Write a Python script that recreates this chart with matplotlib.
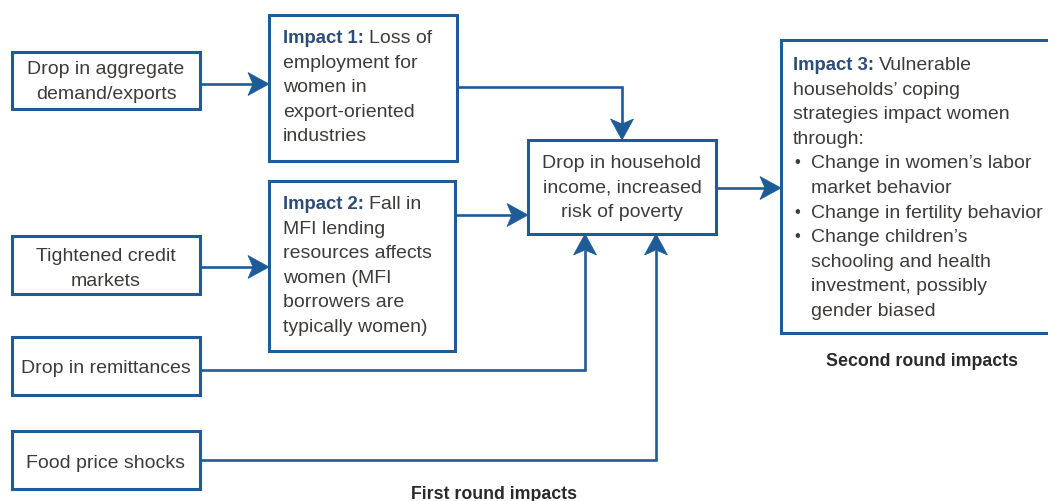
import matplotlib
matplotlib.use("Agg")
import matplotlib.pyplot as plt
from matplotlib.patches import Rectangle, Polygon

# ---------------- content ----------------
source_labels = [
    ["Drop in aggregate", "demand/exports"],
    ["Tightened credit", "markets"],
    ["Drop in remittances"],
    ["Food price shocks"],
]
impact1_head = "Impact 1:"
impact1_lines = ["Loss of", "employment for", "women in", "export-oriented", "industries"]
impact2_head = "Impact 2:"
impact2_lines = ["Fall in", "MFI lending", "resources affects", "women (MFI",
                 "borrowers are", "typically women)"]
center_lines = ["Drop in household", "income, increased", "risk of poverty"]
impact3_head = "Impact 3:"
impact3_lines = ["Vulnerable", "households\u2019 coping", "strategies impact women", "through:"]
impact3_bullets = [
    ["Change in women\u2019s labor", "market behavior"],
    ["Change in fertility behavior"],
    ["Change children\u2019s", "schooling and health", "investment, possibly", "gender biased"],
]
caption_first = "First round impacts"
caption_second = "Second round impacts"

# ---------------- style ----------------
W, H = 1048, 502
BLUE = "#1d5c98"
TEXT = "#3f3b38"
HEAD = "#2e4c7a"
FS = 14
LH = 24.6
REG = ["Liberation Sans", "DejaVu Sans"]
BOLD = ["Liberation Sans", "DejaVu Sans"]

fig = plt.figure(figsize=(W / 100, H / 100), dpi=100)
ax = fig.add_axes([0, 0, 1, 1])
ax.set_xlim(0, W)
ax.set_ylim(H, 0)
ax.axis("off")
renderer = fig.canvas.get_renderer()


def box(x0, y0, x1, y1):
    ax.add_patch(Rectangle((x0, y0), x1 - x0, y1 - y0, facecolor="white",
                           edgecolor=BLUE, linewidth=2.2, zorder=3))


def arrow(points, direction):
    # points: polyline; last point is arrow tip
    L, hw, notch = 21, 11.5, 5
    xs = [p[0] for p in points]
    ys = [p[1] for p in points]
    tx, ty = points[-1]
    dx, dy = direction
    xs[-1] = tx - dx * (L - notch)
    ys[-1] = ty - dy * (L - notch)
    ax.plot(xs, ys, color=BLUE, lw=1.9, solid_capstyle="butt",
            solid_joinstyle="miter", zorder=2)
    px, py = -dy, dx
    bx, by = tx - dx * L, ty - dy * L
    poly = [(tx, ty), (bx + px * hw, by + py * hw),
            (tx - dx * (L - notch), ty - dy * (L - notch)),
            (bx - px * hw, by - py * hw)]
    ax.add_patch(Polygon(poly, closed=True, facecolor=BLUE, edgecolor=BLUE,
                         lw=0.5, zorder=4))


def centered(lines, cx, base0):
    for i, s in enumerate(lines):
        ax.text(cx, base0 + i * LH, s, ha="center", va="baseline", fontsize=FS,
                family=REG, color=TEXT, zorder=5)


def headed(head, lines, x, base0):
    t = ax.text(x, base0, head, ha="left", va="baseline", fontsize=13.3,
                family=BOLD, weight="bold", color=HEAD, zorder=5)
    bb = t.get_window_extent(renderer)
    xe = ax.transData.inverted().transform((bb.x1, bb.y0))[0]
    ax.text(xe + 5, base0, lines[0], ha="left", va="baseline", fontsize=FS,
            family=REG, color=TEXT, zorder=5)
    for i, s in enumerate(lines[1:], start=1):
        ax.text(x, base0 + i * LH, s, ha="left", va="baseline", fontsize=FS,
                family=REG, color=TEXT, zorder=5)
    return base0 + len(lines) * LH


# ---------------- source boxes ----------------
src_x0, src_x1 = 12, 200
src_boxes = [(53, 110), (237, 295), (338, 396), (432, 490)]
src_base = [74, 261, 373, 468]
for (y0, y1), lab, b in zip(src_boxes, source_labels, src_base):
    box(src_x0, y0, src_x1, y1)
    centered(lab, (src_x0 + src_x1) / 2, b)

# ---------------- impact boxes ----------------
i1 = (269, 16, 457, 162)
i2 = (269, 182, 455, 352)
cb = (528, 141, 716, 235)
i3 = (781, 41, 1060, 334)
for b in (i1, i2, cb, i3):
    box(*b)

headed(impact1_head, impact1_lines, 283, 43)
headed(impact2_head, impact2_lines, 283, 209)
centered(center_lines, (cb[0] + cb[2]) / 2, 168)
nb = headed(impact3_head, impact3_lines, 793, 70)
for bl in impact3_bullets:
    ax.text(794, nb - 1, "\u2022", ha="left", va="baseline", fontsize=12,
            family=REG, color=TEXT, zorder=5)
    for s in bl:
        ax.text(811, nb, s, ha="left", va="baseline", fontsize=FS,
                family=REG, color=TEXT, zorder=5)
        nb += LH

# ---------------- connectors ----------------
arrow([(src_x1, 85), (i1[0], 85)], (1, 0))
arrow([(src_x1, 268), (i2[0], 268)], (1, 0))
arrow([(i1[2], 88), (622, 88), (622, cb[1])], (0, 1))
arrow([(i2[2], 216), (cb[0], 216)], (1, 0))
arrow([(src_x1, 371), (585, 371), (585, cb[3])], (0, -1))
arrow([(src_x1, 461), (656, 461), (656, cb[3])], (0, -1))
arrow([(cb[2], 189), (i3[0], 189)], (1, 0))

# ---------------- captions ----------------
ax.text(922, 366, caption_second, ha="center", va="baseline", fontsize=12.8,
        family=BOLD, weight="bold", color="#2a2a2a")
ax.text(494, 499, caption_first, ha="center", va="baseline", fontsize=12.8,
        family=BOLD, weight="bold", color="#2a2a2a")

fig.savefig("out.png", dpi=100)
